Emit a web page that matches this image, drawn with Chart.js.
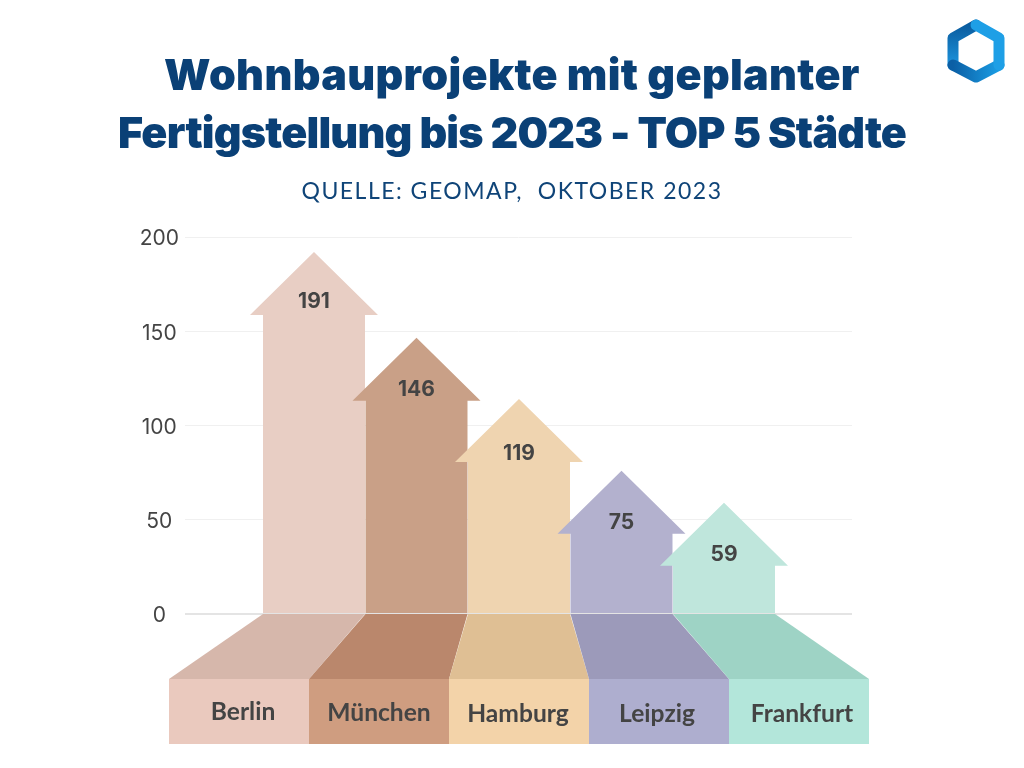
<!DOCTYPE html>
<html lang="de">
<head>
<meta charset="utf-8">
<title>Wohnbauprojekte</title>
<script src="https://cdn.jsdelivr.net/npm/chart.js@4"></script>
<style>
body{margin:0;background:#fff;width:1024px;height:768px;overflow:hidden;position:relative;}
#chart{position:absolute;left:0;top:0;}
h1{position:absolute;left:0;top:45px;width:1024px;margin:0;text-align:center;font:900 43px/58px Inter,sans-serif;color:#0a4076;white-space:nowrap;}
h1 span{display:block;}
#line1{letter-spacing:.35px;}
#line2{letter-spacing:-.8px;}
#quelle{position:absolute;left:0;top:176px;width:1024px;text-align:center;font:400 23px/28px Lato,sans-serif;color:#0f4478;letter-spacing:1.5px;white-space:pre;}
#logo{position:absolute;left:940px;top:14px;}
</style>
</head>
<body>
<canvas id="chart" width="1024" height="768"></canvas>
<h1><span id="line1">Wohnbauprojekte mit geplanter</span><span id="line2">Fertigstellung bis 2023 - TOP 5 Städte</span></h1>
<div id="quelle">QUELLE: GEOMAP,  OKTOBER 2023</div>
<svg id="logo" width="72" height="74" viewBox="940 14 72 74">
<defs>
<linearGradient id="g1" x1="0" y1="0" x2="0" y2="1"><stop offset="0" stop-color="#0a5c9f"/><stop offset="1" stop-color="#1c93dc"/></linearGradient>
<linearGradient id="g2" x1="0" y1="0" x2="1" y2="0"><stop offset="0" stop-color="#0b5fa5"/><stop offset="1" stop-color="#1b9de4"/></linearGradient>
</defs>
<g fill="none" stroke-width="11" stroke-linejoin="round" stroke-linecap="round">
<path d="M976 25 L953 38 V65" stroke="url(#g1)"/>
<path d="M953 65 L976 77 L999 65" stroke="url(#g2)"/>
<path d="M999 65 V38 L976 25" stroke="#1e9fe6"/>
</g>
</svg>
<script>
const categories=["Berlin","München","Hamburg","Leipzig","Frankfurt"];
const valueLabels=[191,146,119,75,59];
const arrowTops=[192,146.5,114,76,59];
const yTicks=[0,50,100,150,200];
const arrowColors=["#e8cec4","#c9a087","#efd4b0","#b3b1ce","#bfe6dc"];
const floorColors=["#d6b7ab","#ba876c","#dfbf94","#9c9aba","#9ed3c5"];
const boxColors=["#eac9be","#cf9d80","#f3d3a9","#aeaecf","#b3e6da"];

const textColor="#444444";
const headHeight=63;
const headOverhang=13;
const floorHeight=65;
const boxHeight=65;
const boxWidth=140;
const boxLeft=169;
const labelX=[243,379,518,657,802];
const labelY=[712,713,714,714,714];
const valueOffset=[50,52,55,52,52];

/* arrows, floor and label boxes follow the bars positions */
const arrowPlugin={
id:"arrows",
afterDatasetsDraw(chart){
const ctx=chart.ctx;
const bars=chart.getDatasetMeta(0).data;
bars.forEach(function(bar,i){
const half=bar.width/2;
const neck=bar.y+headHeight;
ctx.fillStyle=arrowColors[i];
ctx.beginPath();
ctx.moveTo(bar.x-half,bar.base);
ctx.lineTo(bar.x-half,neck);
ctx.lineTo(bar.x-half-headOverhang,neck);
ctx.lineTo(bar.x,bar.y);
ctx.lineTo(bar.x+half+headOverhang,neck);
ctx.lineTo(bar.x+half,neck);
ctx.lineTo(bar.x+half,bar.base);
ctx.closePath();
ctx.fill();

const floorTop=bar.base+1;
const boxTop=floorTop+floorHeight;
const left=boxLeft+i*boxWidth;
ctx.fillStyle=floorColors[i];
ctx.beginPath();
ctx.moveTo(bar.x-half,floorTop);
ctx.lineTo(bar.x+half,floorTop);
ctx.lineTo(left+boxWidth,boxTop);
ctx.lineTo(left,boxTop);
ctx.closePath();
ctx.fill();

ctx.fillStyle=boxColors[i];
ctx.fillRect(left,boxTop,boxWidth,boxHeight);
});
ctx.textAlign="center";
ctx.textBaseline="middle";
ctx.fillStyle=textColor;
bars.forEach(function(bar,i){
ctx.font="700 21px Inter, sans-serif";
ctx.fillText(String(valueLabels[i]),bar.x,bar.y+valueOffset[i]);
ctx.font="700 24.6px Lato, sans-serif";
ctx.fillText(categories[i],labelX[i],labelY[i]);
});
}
};

new Chart(document.getElementById("chart"),{
type:"bar",
data:{
labels:categories,
datasets:[{
label:"Wohnbauprojekte",
data:arrowTops.map(function(v,i){return {x:i,y:v};}),
backgroundColor:"transparent",
barThickness:102
}]
},
options:{
responsive:false,
animation:false,
layout:{padding:{top:237,right:172,bottom:154,left:0}},
plugins:{legend:{display:false},title:{display:false},tooltip:{enabled:false}},
scales:{
x:{
type:"linear",
offset:false,
min:-1.2585,
max:5.2488,
display:false
},
y:{
min:0,
max:200,
afterFit(scale){scale.width=185;},
afterBuildTicks(scale){scale.ticks=yTicks.map(function(v){return {value:v};});},
border:{display:false},
grid:{
drawTicks:false,
color(c){return c.tick.value===0?"#e4e4e4":"#f0f0f0";},
lineWidth(c){return c.tick.value===0?2:1;}
},
ticks:{
padding:6,
labelOffset:2,
crossAlign:"center",
color:textColor,
font:{family:"Inter, sans-serif",size:21,weight:"400"}
}
}
}
},
plugins:[arrowPlugin]
});
</script>
</body>
</html>
